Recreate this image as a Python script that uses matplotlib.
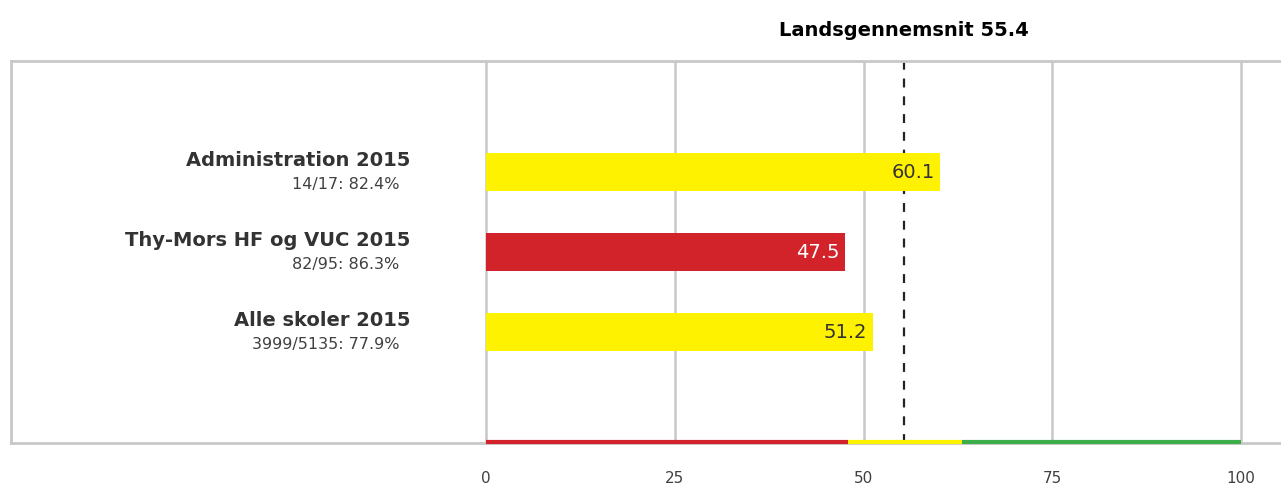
import matplotlib
matplotlib.use("Agg")
import matplotlib.pyplot as plt

# data
categories = ["Administration 2015", "Thy-Mors HF og VUC 2015", "Alle skoler 2015"]
subtitles = ["14/17: 82.4%", "82/95: 86.3%", "3999/5135: 77.9%"]
values = [60.1, 47.5, 51.2]
bar_colors = ["#FFF200", "#D2232A", "#FFF200"]
label_colors = ["#333333", "#FFFFFF", "#333333"]
national_avg = 55.4
band_edges = [0, 48, 63, 100]
band_colors = ["#D2232A", "#FFF200", "#3DAE49"]
xticks = [0, 25, 50, 75, 100]

grey = "#C8C8C8"

fig = plt.figure(figsize=(12.81, 4.87), dpi=100)
ax = fig.add_axes([11 / 1281, 1 - 443 / 487, 1 - 11 / 1281, (443 - 61) / 487])

# 0 at px 486, 100 at px 1241
scale = (1241 - 486) / 100
ax.set_xlim(-(486 - 11) / scale, (1281 - 486) / scale)
ax.set_ylim(2 + 1.3875, -1.3875)

# grid
for t in xticks:
    ax.axvline(t, color=grey, lw=1.8, zorder=0)

# national average (behind the bars)
ax.axvline(national_avg, color="#222222", lw=1.6, ls=(0, (4, 4)), zorder=1)
ax.text(national_avg, -1.3875 - 0.38, "Landsgennemsnit %.1f" % national_avg,
        ha="center", va="center", fontsize=14, fontweight="bold", color="black")

ypos = list(range(len(categories)))
ax.barh(ypos, values, height=0.475, color=bar_colors, zorder=2)

for y, v, c in zip(ypos, values, label_colors):
    ax.text(v - 0.7, y, "%.1f" % v, ha="right", va="center", fontsize=14, color=c, zorder=3)

# category labels
for y, cat, sub in zip(ypos, categories, subtitles):
    ax.text(-10.0, y - 0.02, cat, ha="right", va="bottom", fontsize=14,
            fontweight="bold", color="#333333")
    ax.text(-11.5, y + 0.06, sub, ha="right", va="top", fontsize=11.5, color="#404040")

# coloured band at the bottom
for i in range(len(band_colors)):
    ax.plot([band_edges[i], band_edges[i + 1]], [2 + 1.3875 - 0.01] * 2,
            color=band_colors[i], lw=3, solid_capstyle="butt", zorder=5, clip_on=False)

# frame
for s in ["left", "top", "bottom"]:
    ax.spines[s].set_color(grey)
    ax.spines[s].set_linewidth(2)
ax.spines["right"].set_visible(False)

ax.set_yticks([])
ax.set_xticks(xticks)
ax.set_xticklabels([str(t) for t in xticks], fontsize=11, color="#404040")
ax.tick_params(axis="x", length=0, pad=20)

fig.savefig("out.png", dpi=100)
